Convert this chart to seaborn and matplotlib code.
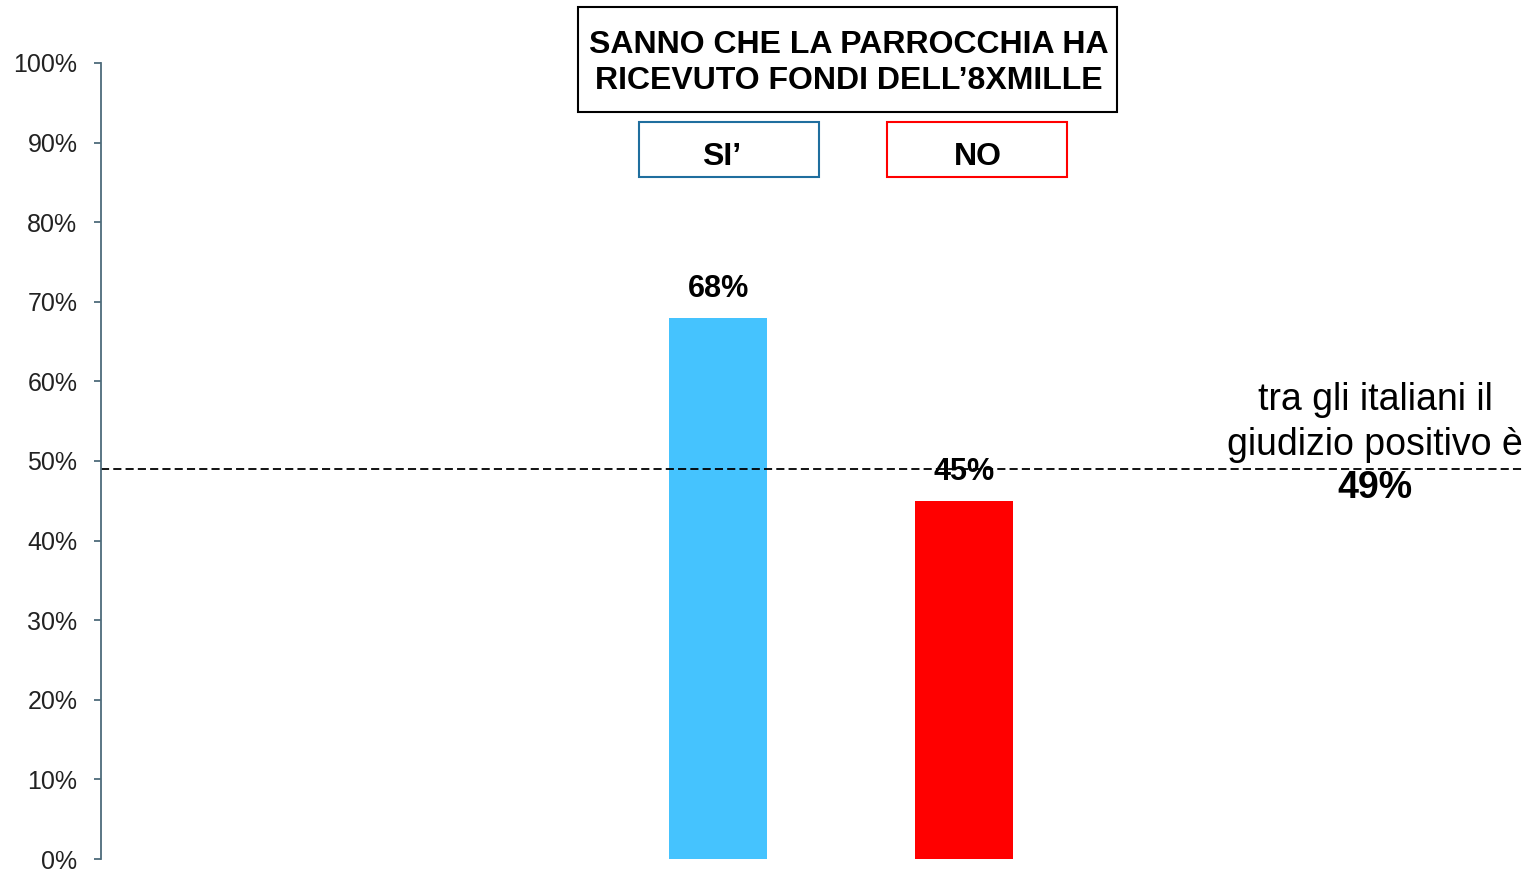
import matplotlib
matplotlib.use("Agg")
import matplotlib.pyplot as plt
import seaborn as sns
import pandas as pd
from matplotlib.patches import Rectangle
from matplotlib.ticker import FuncFormatter

# dati
categorie = ["SI’", "NO"]
valori = [68, 45]
colori = ["#45C3FE", "#FF0000"]
bordi_legenda = ["#1F6E9E", "#FF0000"]
media_italiani = 49
titolo = "SANNO CHE LA PARROCCHIA HA\nRICEVUTO FONDI DELL’8XMILLE"
nota_righe = ["tra gli italiani il", "giudizio positivo è"]

sns.set_theme(style="white")
plt.rcParams["font.family"] = ["Liberation Sans", "DejaVu Sans"]
plt.rcParams["text.color"] = "black"

df = pd.DataFrame({"risposta": categorie, "valore": valori})

fig = plt.figure(figsize=(15.3, 8.71), dpi=100)
ax = fig.add_axes([101 / 1530, 12 / 871, 1424 / 1530, 796 / 871])

sns.barplot(data=df, x="risposta", y="valore", hue="risposta",
            palette=colori, order=categorie, hue_order=categorie,
            width=0.4, legend=False, ax=ax, saturation=1,
            edgecolor="none", linewidth=0)

for i, v in enumerate(valori):
    ax.text(i, v + 3.6, f"{v}%", ha="center", va="center",
            fontsize=22, fontweight="bold", color="black", zorder=5)

ax.axhline(media_italiani, color="black", linestyle=(0, (4.5, 2.3)), linewidth=1.3)

ax.set_xlim(-2.508, 3.28)
ax.set_ylim(0, 100)
ax.set_yticks(range(0, 101, 10))
ax.yaxis.set_major_formatter(FuncFormatter(lambda y, _: f"{int(y)}%"))
ax.set_xticks([])
ax.set_xlabel("")
ax.set_ylabel("")

spine_col = "#4D6B7B"
for s in ["top", "right", "bottom"]:
    ax.spines[s].set_visible(False)
ax.spines["left"].set_color(spine_col)
ax.spines["left"].set_linewidth(1.3)
ax.tick_params(axis="y", left=True, direction="out", length=5, width=1.3,
               color=spine_col, labelsize=18, labelcolor="#222222", pad=12)

# nota a destra
W, H = 1530, 871
fig.text(1375 / W, 1 - 400 / H, nota_righe[0], ha="center", va="center", fontsize=27)
fig.text(1375 / W, 1 - 445 / H, nota_righe[1], ha="center", va="center", fontsize=27)
fig.text(1375 / W, 1 - 488 / H, f"{media_italiani}%", ha="center", va="center",
         fontsize=27, fontweight="bold")

# riquadro titolo
fig.patches.append(Rectangle((578 / W, 1 - 112 / H), 539 / W, 105 / H,
                             transform=fig.transFigure, fill=False,
                             edgecolor="black", linewidth=1.5))
fig.text(849 / W, 1 - 63 / H, titolo, ha="center", va="center", fontsize=23,
         fontweight="bold", linespacing=1.3)

# riquadri legenda
box_x = [639, 887]
text_x = [722, 978]
for bx, tx, lab, ec in zip(box_x, text_x, categorie, bordi_legenda):
    fig.patches.append(Rectangle((bx / W, 1 - 177 / H), 180 / W, 55 / H,
                                 transform=fig.transFigure, fill=False,
                                 edgecolor=ec, linewidth=1.5))
    fig.text(tx / W, 1 - 157 / H, lab, ha="center", va="center", fontsize=23,
             fontweight="bold")

fig.savefig("out.png", dpi=100, facecolor="white")
